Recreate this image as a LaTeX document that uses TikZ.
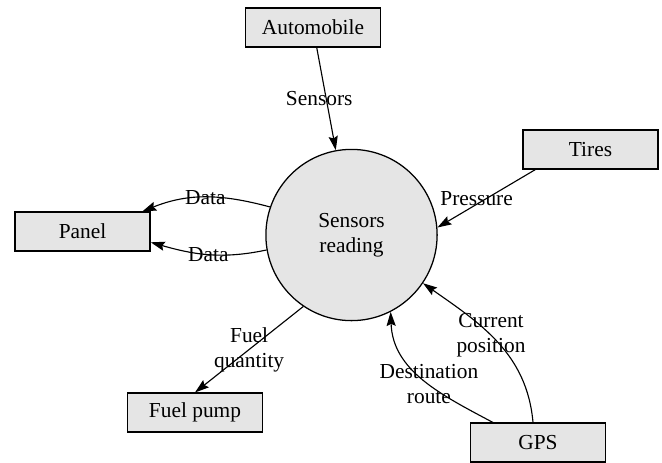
\documentclass[tikz,border=0pt]{standalone}
\usepackage{fontspec}
\setmainfont{Liberation Serif}
\usetikzlibrary{arrows.meta}

\begin{document}
\begin{tikzpicture}[x=0.025cm,y=-0.025cm,
	every node/.style={font=\fontsize{15.2}{17.8}\selectfont, align=center},
	box/.style={draw, fill=black!10, line width=0.9pt, minimum width=3.38cm, minimum height=0.97cm, inner sep=0pt},
	proc/.style={draw, circle, fill=black!10, line width=0.9pt, minimum size=4.28cm, inner sep=0pt},
	flow/.style={-{Stealth[length=10pt,width=6.5pt,inset=1.5pt]}, line width=0.8pt}]
	\useasboundingbox (0,0) rectangle (662,462);
	
	\node[proc] (circ) at (351.5,235) {Sensors\\reading};
	\node[box] (auto) at (313,27.5) {Automobile};
	\node[box] (tires) at (590.5,149.5) {Tires};
	\node[box] (panel) at (82.5,231.5) {Panel};
	\node[box] (fuel) at (195,412.5) {Fuel pump};
	\node[box] (gps) at (538,442.5) {GPS};
	
	\path[flow]
	(auto) edge node [xshift=-5pt] {Sensors} (circ)
	(tires.200) edge node [xshift=-7pt] {Pressure} (circ.5)
	(circ.236) edge node {Fuel\\quantity} (fuel.north);
	
	\path[flow]
	(circ.161) edge [out=165, in=22] node {Data} ([xshift=-6pt]panel.north east)
	(circ.190) edge [out=192, in=-16] node {Data} (panel.-9)
	(gps.156) edge [out=152, in=-88] node [pos=0.45] {Destination\\route} (circ.297)
	(gps.104) edge [out=95, in=-35] node [pos=0.55] {Current\\position} (circ.326);
\end{tikzpicture}
\end{document}
